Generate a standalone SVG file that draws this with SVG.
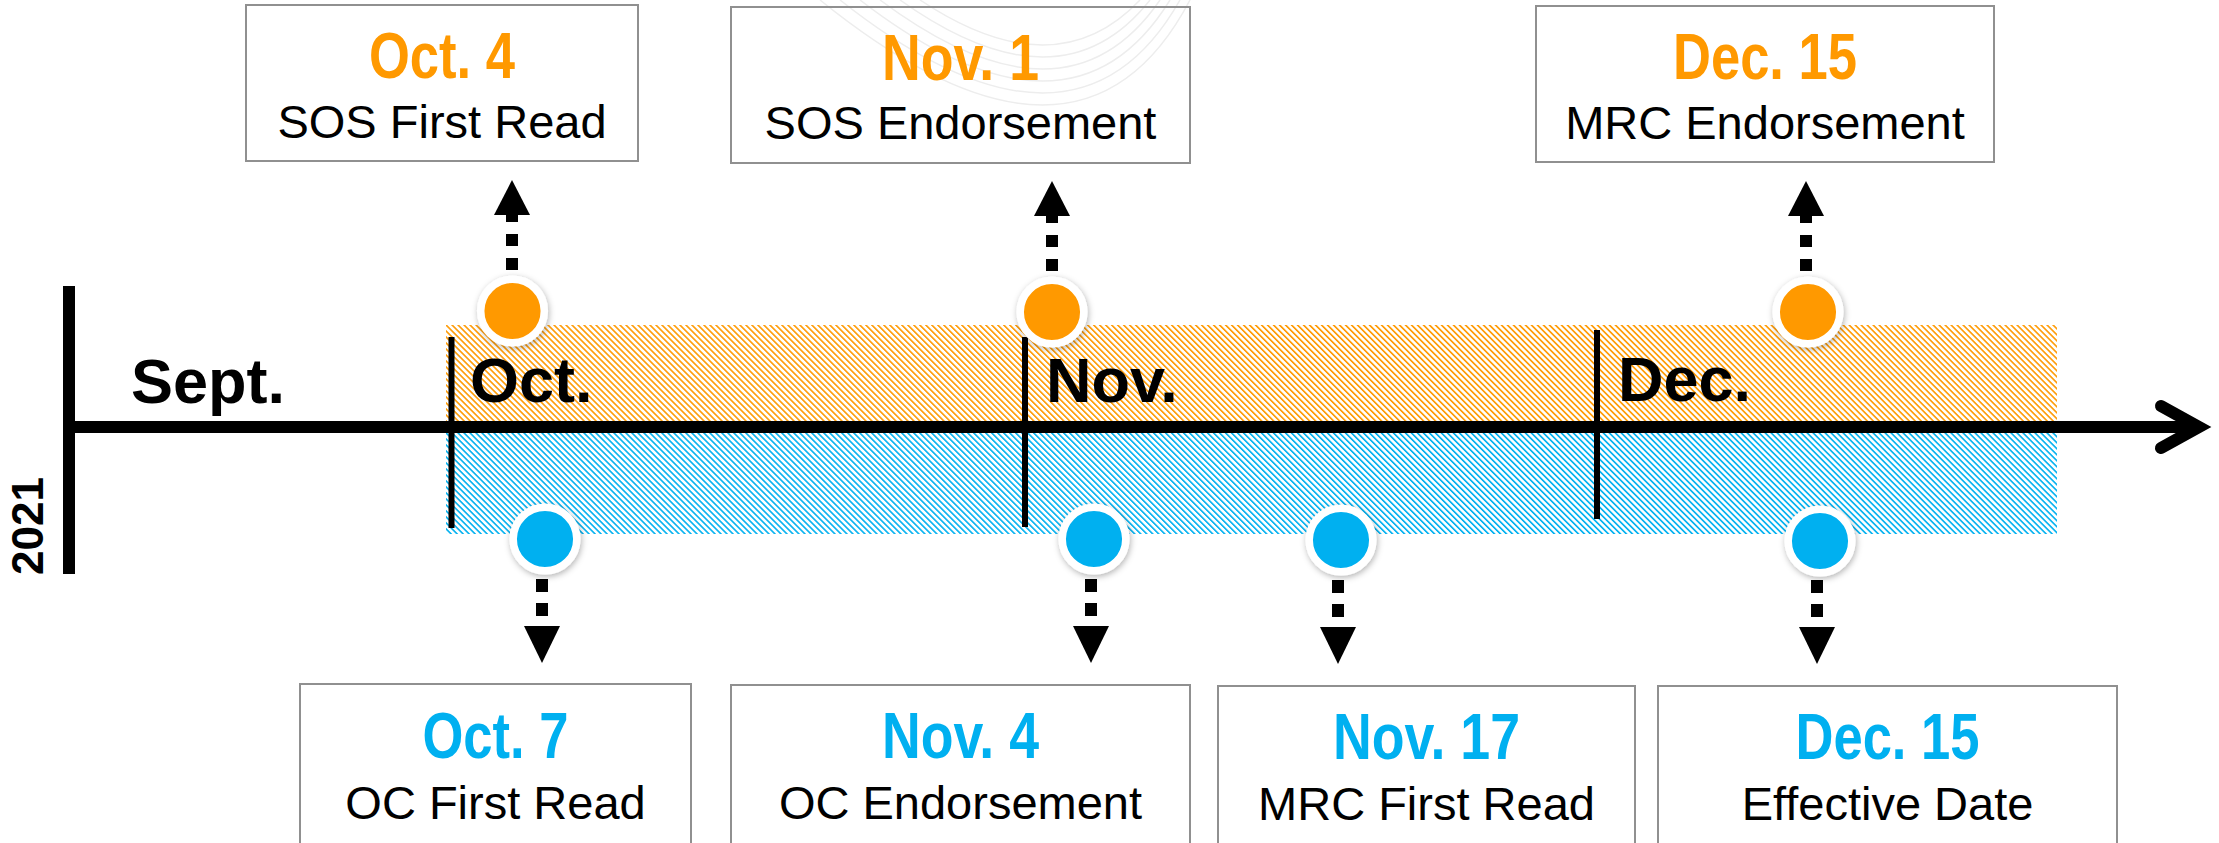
<svg xmlns="http://www.w3.org/2000/svg" width="2219" height="843" viewBox="0 0 2219 843">
<style>
.box{fill:none;stroke:#909090;stroke-width:2}
.date{font-family:"Liberation Sans Narrow","Liberation Sans",Arial,sans-serif;font-weight:bold;font-size:64px;text-anchor:middle}
.lbl{font-family:"Liberation Sans",Arial,sans-serif;font-size:47px;text-anchor:middle;fill:#000}
.org{fill:#FF9900}
.blu{fill:#00B0F0}
.month{font-family:"Liberation Sans",Arial,sans-serif;font-weight:bold;font-size:63px;fill:#000}
.dash{stroke:#000;stroke-width:12;fill:none}
.tick{stroke:#000;stroke-width:6}
.dot{stroke:#fff;stroke-width:7.5;filter:url(#sh)}
.wm{fill:none;stroke:#ededed;stroke-width:1.5}
</style>
<defs>
<pattern id="hatchO" patternUnits="userSpaceOnUse" width="4.24" height="20" patternTransform="rotate(-45)"><rect x="0" y="0" width="1.6" height="20" fill="#FF9900"/></pattern>
<pattern id="hatchB" patternUnits="userSpaceOnUse" width="4.24" height="20" patternTransform="rotate(-45)"><rect x="0" y="0" width="1.6" height="20" fill="#00B0F0"/></pattern>
<filter id="sh" x="-40%" y="-40%" width="180%" height="180%"><feDropShadow dx="1" dy="2" stdDeviation="3" flood-color="#000" flood-opacity="0.3"/></filter>
<marker id="headUp" markerUnits="userSpaceOnUse" viewBox="0 -20 50 40" markerWidth="50" markerHeight="40" refX="0" refY="0" orient="auto" overflow="visible"><path d="M0,-18 L35,0 L0,18 Z" fill="#000"/></marker>
<marker id="headDown" markerUnits="userSpaceOnUse" viewBox="0 -20 50 40" markerWidth="50" markerHeight="40" refX="0" refY="0" orient="auto" overflow="visible"><path d="M10,-18 L47,0 L10,18 Z" fill="#000"/></marker>
</defs>
<rect width="2219" height="843" fill="#fff"/>
<g id="watermark">
<path class="wm" d="M820,0 Q1080,210 1190,0"/>
<path class="wm" d="M840,0 Q1075,186 1180,0"/>
<path class="wm" d="M860,0 Q1070,162 1170,0"/>
<path class="wm" d="M880,0 Q1065,138 1160,0"/>
<path class="wm" d="M900,0 Q1060,114 1150,0"/>
<path class="wm" d="M920,0 Q1055,90 1140,0"/>
</g>
<g id="bands">
<rect x="446" y="325" width="1611" height="97" fill="url(#hatchO)"/>
<rect x="446" y="432" width="1611" height="102" fill="url(#hatchB)"/>
</g>
<g id="axis">
<rect x="63" y="286" width="12" height="288" fill="#000"/>
<line x1="70" y1="427" x2="2200" y2="427" stroke="#000" stroke-width="12"/>
<polyline points="2161,406 2199,427 2161,448" fill="none" stroke="#000" stroke-width="12" stroke-linecap="round" stroke-linejoin="miter"/>
<text transform="translate(43,526) rotate(-90)" font-family="'Liberation Sans',Arial,sans-serif" font-weight="bold" font-size="44" text-anchor="middle" fill="#000">2021</text>
</g>
<g id="ticks">
<line class="tick" x1="451.5" y1="337" x2="451.5" y2="528"/>
<line class="tick" x1="1025" y1="337" x2="1025" y2="527"/>
<line class="tick" x1="1597" y1="330" x2="1597" y2="519"/>
</g>
<g id="months">
<text class="month" x="131" y="403">Sept.</text>
<text class="month" x="470" y="402">Oct.</text>
<text class="month" x="1046" y="402">Nov.</text>
<text class="month" x="1618" y="401">Dec.</text>
</g>
<g id="connectors">
<line class="dash" x1="512" y1="270" x2="512" y2="215" stroke-dasharray="12 12" marker-end="url(#headUp)"/>
<line class="dash" x1="1052" y1="271" x2="1052" y2="216" stroke-dasharray="12 12" marker-end="url(#headUp)"/>
<line class="dash" x1="1806" y1="271" x2="1806" y2="216" stroke-dasharray="12 12" marker-end="url(#headUp)"/>
<line class="dash" x1="542" y1="579" x2="542" y2="616" stroke-dasharray="13 11" marker-end="url(#headDown)"/>
<line class="dash" x1="1091" y1="579" x2="1091" y2="616" stroke-dasharray="13 11" marker-end="url(#headDown)"/>
<line class="dash" x1="1338" y1="580" x2="1338" y2="617" stroke-dasharray="13 11" marker-end="url(#headDown)"/>
<line class="dash" x1="1817" y1="580" x2="1817" y2="617" stroke-dasharray="13 11" marker-end="url(#headDown)"/>
</g>
<g id="dot-oct4"><circle class="dot org" cx="512.5" cy="311" r="31.8"/></g>
<g id="dot-nov1"><circle class="dot org" cx="1052" cy="312" r="31.8"/></g>
<g id="dot-dec15-top"><circle class="dot org" cx="1808" cy="312" r="31.8"/></g>
<g id="dot-oct7"><circle class="dot blu" cx="545" cy="539" r="31.8"/></g>
<g id="dot-nov4"><circle class="dot blu" cx="1094" cy="539" r="31.8"/></g>
<g id="dot-nov17"><circle class="dot blu" cx="1341" cy="540" r="31.8"/></g>
<g id="dot-dec15-bottom"><circle class="dot blu" cx="1820" cy="541" r="31.8"/></g>
<g id="box-oct4">
<rect class="box" x="246" y="5" width="392" height="156"/>
<text class="date org" x="442" y="78" textLength="146" lengthAdjust="spacingAndGlyphs">Oct. 4</text>
<text class="lbl" x="442" y="138">SOS First Read</text>
</g>
<g id="box-nov1">
<rect class="box" x="731" y="7" width="459" height="156"/>
<text class="date org" x="960.5" y="80" textLength="157" lengthAdjust="spacingAndGlyphs">Nov. 1</text>
<text class="lbl" x="960.5" y="139">SOS Endorsement</text>
</g>
<g id="box-dec15-top">
<rect class="box" x="1536" y="6" width="458" height="156"/>
<text class="date org" x="1765" y="79" textLength="184" lengthAdjust="spacingAndGlyphs">Dec. 15</text>
<text class="lbl" x="1765" y="139">MRC Endorsement</text>
</g>
<g id="box-oct7">
<rect class="box" x="300" y="684" width="391" height="170"/>
<text class="date blu" x="495.5" y="758" textLength="146" lengthAdjust="spacingAndGlyphs">Oct. 7</text>
<text class="lbl" x="495.5" y="819">OC First Read</text>
</g>
<g id="box-nov4">
<rect class="box" x="731" y="685" width="459" height="170"/>
<text class="date blu" x="960.5" y="758" textLength="157" lengthAdjust="spacingAndGlyphs">Nov. 4</text>
<text class="lbl" x="960.5" y="819">OC Endorsement</text>
</g>
<g id="box-nov17">
<rect class="box" x="1218" y="686" width="417" height="170"/>
<text class="date blu" x="1426.5" y="759" textLength="187" lengthAdjust="spacingAndGlyphs">Nov. 17</text>
<text class="lbl" x="1426.5" y="820">MRC First Read</text>
</g>
<g id="box-dec15-bottom">
<rect class="box" x="1658" y="686" width="459" height="170"/>
<text class="date blu" x="1887.5" y="759" textLength="184" lengthAdjust="spacingAndGlyphs">Dec. 15</text>
<text class="lbl" x="1887.5" y="820">Effective Date</text>
</g>
</svg>
